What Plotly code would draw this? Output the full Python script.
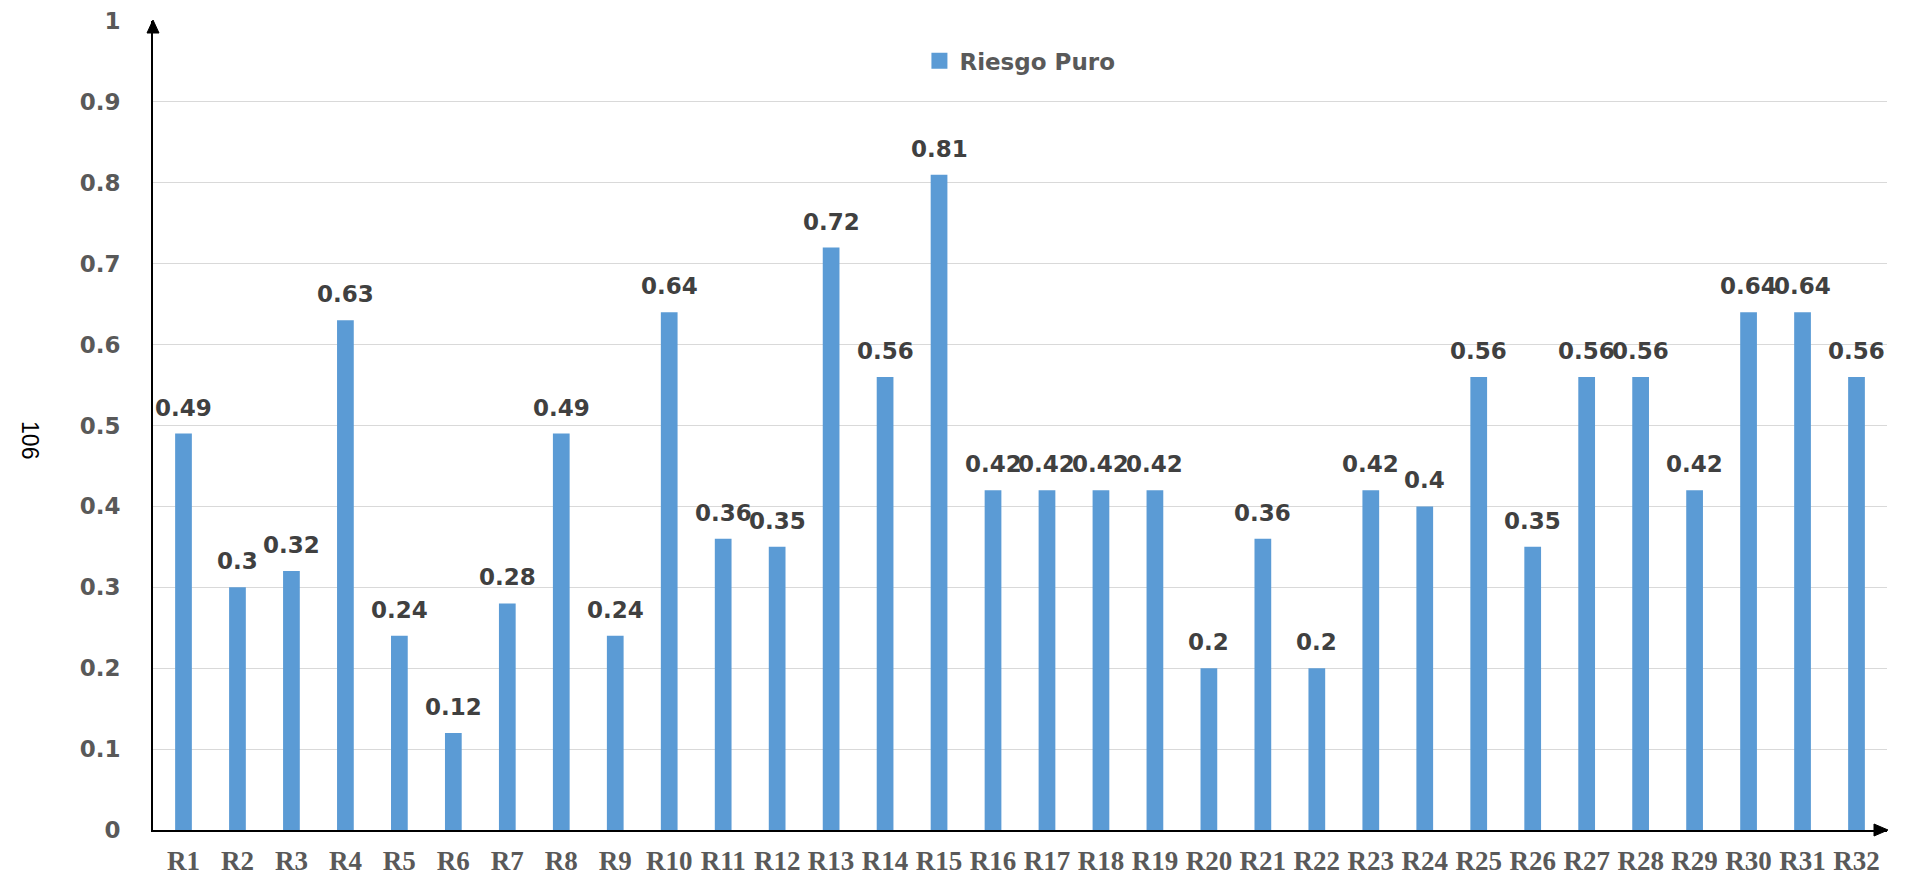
import plotly.graph_objects as go

# Risk categories and pure-risk values
categories = [f"R{i}" for i in range(1, 33)]
riesgo_puro = [0.49, 0.3, 0.32, 0.63, 0.24, 0.12, 0.28, 0.49, 0.24, 0.64,
               0.36, 0.35, 0.72, 0.56, 0.81, 0.42, 0.42, 0.42, 0.42, 0.2,
               0.36, 0.2, 0.42, 0.4, 0.56, 0.35, 0.56, 0.56, 0.42, 0.64,
               0.64, 0.56]
y_tick_vals = [0, 0.1, 0.2, 0.3, 0.4, 0.5, 0.6, 0.7, 0.8, 0.9, 1]
y_tick_text = ["0", "0.1", "0.2", "0.3", "0.4", "0.5", "0.6", "0.7", "0.8", "0.9", "1"]
series_name = "Riesgo Puro"
side_label = "106"

BAR_COLOR = "#5B9BD5"
GRID_COLOR = "#d9d9d9"

fig = go.Figure()
fig.add_trace(go.Bar(
    x=categories,
    y=riesgo_puro,
    name=series_name,
    marker=dict(color=BAR_COLOR, line=dict(width=0)),
    showlegend=False,
))
# legend entry with a larger square swatch
fig.add_trace(go.Scatter(
    x=[None], y=[None], mode="markers", name=series_name,
    marker=dict(symbol="square", size=17, color=BAR_COLOR),
    showlegend=True,
))

# value labels above each bar
for cat, val in zip(categories, riesgo_puro):
    fig.add_annotation(
        x=cat, y=val, xref="x", yref="y",
        text=f"{val:g}", showarrow=False,
        yanchor="bottom", yshift=11,
        font=dict(family="DejaVu Sans", size=23, color="#404040", weight="bold"),
    )

# rotated side label
fig.add_annotation(
    x=0, y=0.482, xref="paper", yref="paper", xshift=-138,
    text=side_label, showarrow=False, textangle=90,
    font=dict(family="Liberation Sans", size=23, color="#000000"),
)

# arrowheads on the axes
fig.add_shape(
    type="path", xref="paper", yref="paper",
    xsizemode="pixel", ysizemode="pixel", xanchor=0, yanchor=1,
    path="M-6,-12 L6,-12 L0,1 Z",
    fillcolor="#000000", line=dict(color="#000000", width=1),
)
fig.add_shape(
    type="path", xref="paper", yref="paper",
    xsizemode="pixel", ysizemode="pixel", xanchor=1, yanchor=0,
    path="M-13,-6 L-13,6 L1,0 Z",
    fillcolor="#000000", line=dict(color="#000000", width=1),
)

fig.update_layout(
    width=1905, height=877,
    margin=dict(l=153, r=18, t=21, b=47),
    paper_bgcolor="white", plot_bgcolor="white",
    bargap=0.69,
    legend=dict(
        orientation="h", x=0.442, y=0.9507, xanchor="left", yanchor="middle",
        font=dict(family="DejaVu Sans", size=23, color="#595959", weight="bold"),
        bgcolor="rgba(0,0,0,0)", itemwidth=30,
    ),
    xaxis=dict(
        automargin=False,
        showline=True, linecolor="#000000", linewidth=2,
        showgrid=False, ticks="",
        tickfont=dict(family="Liberation Serif", size=27, color="#595959", weight="bold"),
        ticklabelstandoff=6,
    ),
    yaxis=dict(
        automargin=False,
        range=[0, 1], tickvals=y_tick_vals, ticktext=y_tick_text,
        showline=True, linecolor="#000000", linewidth=2,
        showgrid=True, gridcolor=GRID_COLOR, gridwidth=1,
        zeroline=False, ticks="",
        tickfont=dict(family="DejaVu Sans", size=23, color="#595959", weight="bold"),
        ticklabelstandoff=26,
    ),
)

fig.write_html("out.html")
